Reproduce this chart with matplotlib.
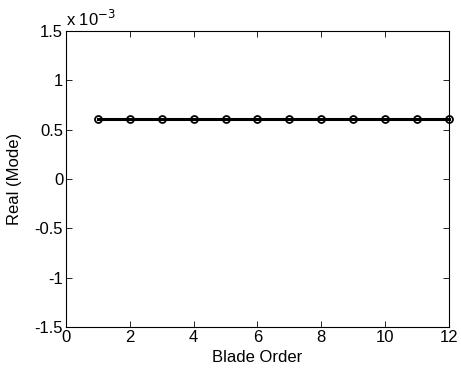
import numpy as np
import matplotlib.pyplot as plt
from matplotlib.ticker import FuncFormatter

plt.rcParams['font.family'] = ['Liberation Sans', 'DejaVu Sans']

blade_order = [1, 2, 3, 4, 5, 6, 7, 8, 9, 10, 11, 12]
real_mode = [0.00061, 0.00061, 0.00061, 0.00061, 0.00061, 0.00061,
             0.00061, 0.00061, 0.00061, 0.00061, 0.00061, 0.00061]

fig = plt.figure(figsize=(4.61, 3.73), dpi=100)
ax = fig.add_axes([0.143, 0.123, 0.831, 0.794])

ax.plot(blade_order, real_mode, color='k', linewidth=2.2, marker='o',
        markersize=5, markerfacecolor='none', markeredgewidth=1.3, clip_on=False)

ax.set_xlim(0, 12)
ax.set_ylim(-1.5e-3, 1.5e-3)
ax.set_xticks(np.arange(0, 13, 2))
ax.set_yticks(np.arange(-1.5e-3, 1.6e-3, 0.5e-3))
ax.yaxis.set_major_formatter(FuncFormatter(lambda v, p: '%g' % round(v * 1e3, 2)))
ax.tick_params(direction='in', top=True, right=True, labelsize=12, length=4, width=0.6, pad=2)
for s in ax.spines.values():
    s.set_linewidth(0.8)

ax.text(0.0, 1.005, r'x 10$^{-3}$', transform=ax.transAxes, fontsize=12, ha='left', va='bottom')
ax.set_xlabel('Blade Order', fontsize=12, labelpad=4)
ax.set_ylabel('Real (Mode)', fontsize=12, labelpad=9)

fig.savefig('out.png', dpi=100)
